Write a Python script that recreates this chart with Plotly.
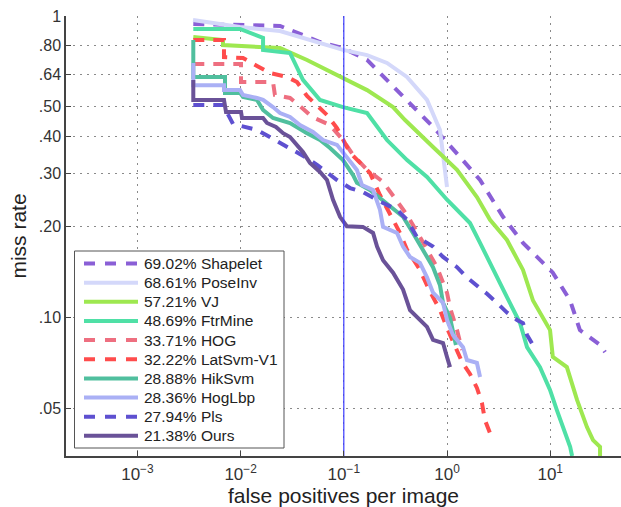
import plotly.graph_objects as go

# ---- data: miss rate vs. false positives per image (FPPI) ----
methods = ["Shapelet", "PoseInv", "VJ", "FtrMine", "HOG",
           "LatSvm-V1", "HikSvm", "HogLbp", "Pls", "Ours"]
log_avg_miss = [69.02, 68.61, 57.21, 48.69, 33.71, 32.22, 28.88, 28.36, 27.94, 21.38]
colors = ["#8a5fd6", "#d4d8fa", "#9ee850", "#4fe0a6", "#ee6f80",
          "#ff4c4c", "#50bf9e", "#aab0f5", "#5e50d0", "#6a5298"]
dashed = [True, False, False, False, True, True, False, False, True, False]

shapelet_fppi = [0.00348, 0.0241, 0.0588, 0.0982, 0.168, 0.262, 0.469, 0.732, 1.337,
                 2.09, 3.49, 5.45, 10.6, 15.6, 19.4, 30.4, 34.0]
shapelet_miss = [0.941, 0.927, 0.820, 0.783, 0.715, 0.614, 0.499, 0.429, 0.341,
                 0.286, 0.216, 0.177, 0.141, 0.114, 0.091, 0.0812, 0.0769]

poseinv_fppi = [0.00346, 0.00986, 0.0241, 0.0588, 0.0982, 0.168, 0.262, 0.409, 0.640, 0.855, 1.0]
poseinv_miss = [0.970, 0.919, 0.892, 0.814, 0.772, 0.742, 0.699, 0.628, 0.527, 0.419, 0.271]

vj_fppi = [0.00348, 0.00675, 0.00675, 0.0241, 0.0440, 0.0982, 0.168, 0.300, 0.392, 0.732,
           1.25, 1.95, 2.61, 3.81, 5.45, 6.81, 9.96, 10.6, 14.5, 18.2, 22.7, 26.0, 30.4, 30.4]
vj_miss = [0.852, 0.833, 0.801, 0.783, 0.715, 0.623, 0.568, 0.499, 0.452, 0.368,
           0.309, 0.251, 0.211, 0.181, 0.144, 0.114, 0.091, 0.0741, 0.0686, 0.0534,
           0.0434, 0.0393, 0.0373, 0.0348]

ftrmine_fppi = [0.00348, 0.00987, 0.0165, 0.0165, 0.0301, 0.0402, 0.0588, 0.0982, 0.168,
                0.262, 0.410, 0.640, 1.0, 1.67, 2.09, 2.79, 3.81, 5.10, 5.96, 7.96, 9.96,
                11.6, 13.3, 15.6, 16.3]
ftrmine_miss = [0.906, 0.906, 0.846, 0.772, 0.754, 0.614, 0.527, 0.499, 0.477,
                0.388, 0.333, 0.293, 0.246, 0.206, 0.177, 0.144, 0.117, 0.0960, 0.0799,
                0.0686, 0.0576, 0.0494, 0.0434, 0.0373, 0.0348]

hog_fppi = [0.00348, 0.01009, 0.01009, 0.0206, 0.0215, 0.0301, 0.0376, 0.0492, 0.0735,
            0.0982, 0.123, 0.168, 0.240, 0.300, 0.410, 0.547, 0.800, 1.0, 1.07, 1.25, 1.40]
hog_miss = [0.693, 0.693, 0.604, 0.604, 0.547, 0.535, 0.503, 0.463, 0.435,
            0.388, 0.346, 0.309, 0.282, 0.255, 0.219, 0.185, 0.147, 0.121, 0.108, 0.091, 0.0781]

latsvm_fppi = [0.00348, 0.00690, 0.00690, 0.01055, 0.01442, 0.0193, 0.0282, 0.0352, 0.0440,
               0.0550, 0.0687, 0.0859, 0.0982, 0.115, 0.144, 0.179, 0.224, 0.280, 0.350,
               0.410, 0.547, 0.684, 0.855, 1.0, 1.20, 1.40, 1.67, 1.95, 2.18, 2.33, 2.61]
latsvm_miss = [0.833, 0.833, 0.731, 0.726, 0.683, 0.647, 0.628, 0.604, 0.543,
               0.507, 0.470, 0.425, 0.388, 0.352, 0.326, 0.302, 0.255, 0.219, 0.191,
               0.168, 0.144, 0.122, 0.106, 0.0924, 0.0799, 0.0713, 0.0651, 0.0585,
               0.0522, 0.0458, 0.0415]

hiksvm_fppi = [0.00348, 0.00348, 0.00706, 0.00706, 0.00987, 0.01055, 0.01442, 0.0165,
               0.0206, 0.0301, 0.0440, 0.0588, 0.0735, 0.0982, 0.123, 0.134, 0.179,
               0.280, 0.375, 0.468, 0.585, 0.732, 0.855, 0.915, 1.07, 1.14, 1.22]
hiksvm_miss = [0.833, 0.628, 0.628, 0.556, 0.556, 0.539, 0.527, 0.488,
               0.459, 0.442, 0.409, 0.388, 0.365, 0.333, 0.297, 0.280, 0.265,
               0.233, 0.216, 0.191, 0.168, 0.147, 0.128, 0.112, 0.0998, 0.0890, 0.0812]

hoglbp_fppi = [0.00348, 0.00348, 0.00690, 0.00690, 0.00987, 0.01055, 0.01442, 0.0165,
               0.0206, 0.0241, 0.0301, 0.0376, 0.0503, 0.0629, 0.0859, 0.107, 0.134,
               0.150, 0.192, 0.224, 0.240, 0.328, 0.375, 0.438, 0.547, 0.640, 0.732,
               0.915, 1.0, 1.14, 1.43, 1.56, 1.95, 2.09]
hoglbp_miss = [0.699, 0.590, 0.590, 0.568, 0.568, 0.547, 0.535, 0.527,
               0.499, 0.477, 0.463, 0.435, 0.413, 0.388, 0.374, 0.341, 0.309,
               0.275, 0.265, 0.228, 0.200, 0.191, 0.172, 0.159, 0.152, 0.136, 0.121,
               0.112, 0.0983, 0.0877, 0.0799, 0.0724, 0.0708, 0.0636]

pls_fppi = [0.00348, 0.00675, 0.00844, 0.01103, 0.01442, 0.01842, 0.0301, 0.0421, 0.0550,
            0.0859, 0.115, 0.153, 0.240, 0.328, 0.410, 0.512, 0.640, 0.732, 0.915,
            1.25, 1.56, 1.95, 2.44, 3.05, 3.81, 4.77, 5.45, 5.96, 6.81, 7.45]
pls_miss = [0.507, 0.507, 0.439, 0.429, 0.419, 0.400, 0.365, 0.341, 0.321,
            0.286, 0.269, 0.261, 0.240, 0.228, 0.211, 0.185, 0.177, 0.172, 0.159,
            0.147, 0.136, 0.128, 0.120, 0.112, 0.104, 0.0983, 0.0960, 0.0877, 0.0812, 0.0799]

ours_fppi = [0.00348, 0.00348, 0.00690, 0.00722, 0.01009, 0.01032, 0.0165, 0.0180, 0.0220,
             0.0258, 0.0301, 0.0352, 0.0402, 0.0470, 0.0588, 0.0687, 0.0735, 0.0786,
             0.0919, 0.107, 0.153, 0.192, 0.210, 0.240, 0.300, 0.375, 0.438, 0.547,
             0.640, 0.732, 0.915, 1.0, 1.07]
ours_miss = [0.614, 0.527, 0.527, 0.481, 0.481, 0.459, 0.459, 0.442, 0.429,
             0.409, 0.397, 0.374, 0.354, 0.326, 0.304, 0.286, 0.265, 0.246,
             0.216, 0.201, 0.200, 0.191, 0.172, 0.155, 0.141, 0.124, 0.106, 0.0983,
             0.0932, 0.0844, 0.0824, 0.0741, 0.0686]

curves_fppi = [shapelet_fppi, poseinv_fppi, vj_fppi, ftrmine_fppi, hog_fppi,
               latsvm_fppi, hiksvm_fppi, hoglbp_fppi, pls_fppi, ours_fppi]
curves_miss = [shapelet_miss, poseinv_miss, vj_miss, ftrmine_miss, hog_miss,
               latsvm_miss, hiksvm_miss, hoglbp_miss, pls_miss, ours_miss]

x_ticks = [1e-3, 1e-2, 1e-1, 1e0, 1e1]
x_ticktext = ["10<sup>\u22123</sup>", "10<sup>\u22122</sup>", "10<sup>\u22121</sup>",
              "10<sup>0</sup>", "10<sup>1</sup>"]
y_ticks = [0.05, 0.10, 0.20, 0.30, 0.40, 0.50, 0.64, 0.80, 1.0]
y_ticktext = [".05", ".10", ".20", ".30", ".40", ".50", ".64", ".80", "1"]

reference_fppi = 0.1
x_range_log = [-3.692, 1.686]
y_range_log = [-1.4584, 0.0]

FONT = "Liberation Sans, Arial, Helvetica, sans-serif"
DASH = "11px,9px"

fig = go.Figure()

for name, fx, my, col, dsh in zip(methods, curves_fppi, curves_miss, colors, dashed):
    fig.add_trace(go.Scatter(
        x=fx, y=my, mode="lines", name=name, showlegend=False,
        line=dict(color=col, width=4, dash=DASH if dsh else "solid"),
    ))

# vertical marker at the reference FPPI
fig.add_trace(go.Scatter(
    x=[reference_fppi, reference_fppi], y=[10 ** y_range_log[0], 10 ** y_range_log[1]],
    mode="lines", showlegend=False, line=dict(color="#3b3bff", width=1.2),
))

# ---- legend box drawn in paper coordinates ----
shapes = []
annotations = []
plot_left, plot_right, plot_top, plot_bottom = 66, 621, 16, 456
pw, ph = plot_right - plot_left, plot_bottom - plot_top


def px_x(px):
    return (px - plot_left) / pw


def px_y(py):
    return (plot_bottom - py) / ph


shapes.append(dict(type="rect", xref="paper", yref="paper",
                   x0=px_x(74.5), x1=px_x(284), y0=px_y(448), y1=px_y(251),
                   line=dict(color="#555555", width=1), fillcolor="white", layer="above"))

row0, row_step = 263.5, 19.15
for i, (name, v, col, dsh) in enumerate(zip(methods, log_avg_miss, colors, dashed)):
    yy = px_y(row0 + i * row_step)
    shapes.append(dict(type="line", xref="paper", yref="paper",
                       x0=px_x(84), x1=px_x(138), y0=yy, y1=yy, layer="above",
                       line=dict(color=col, width=4, dash="11px,10px" if dsh else "solid")))
    annotations.append(dict(xref="paper", yref="paper", x=px_x(142), y=yy,
                            xanchor="left", yanchor="middle", showarrow=False,
                            text=f"{v:.2f}% {name}",
                            font=dict(family=FONT, size=15.5, color="#222222")))

fig.update_layout(
    width=621, height=507,
    margin=dict(l=66, r=0, t=16, b=51),
    paper_bgcolor="white", plot_bgcolor="white",
    showlegend=False,
    shapes=shapes, annotations=annotations,
    font=dict(family=FONT, color="#222222"),
)

fig.update_xaxes(
    type="log", range=x_range_log,
    tickvals=x_ticks, ticktext=x_ticktext,
    tickfont=dict(family=FONT, size=17, color="#333333"),
    ticklabelstandoff=2,
    showgrid=True, gridcolor="#8a8a8a", griddash="2px,5px", gridwidth=1,
    showline=True, linecolor="#444444", linewidth=1.5, mirror=False,
    ticks="inside", ticklen=5, tickcolor="#444444",
    zeroline=False,
    title=dict(text="false positives per image", standoff=6,
               font=dict(family=FONT, size=21, color="#222222")),
)
fig.update_yaxes(
    type="log", range=y_range_log,
    tickvals=y_ticks, ticktext=y_ticktext,
    tickfont=dict(family=FONT, size=16, color="#333333"),
    showgrid=True, gridcolor="#8a8a8a", griddash="2px,5px", gridwidth=1,
    showline=True, linecolor="#444444", linewidth=1.5, mirror=False,
    ticks="inside", ticklen=5, tickcolor="#444444",
    zeroline=False,
    title=dict(text="miss rate", standoff=6,
               font=dict(family=FONT, size=21, color="#222222")),
)

fig.write_html("out.html")
